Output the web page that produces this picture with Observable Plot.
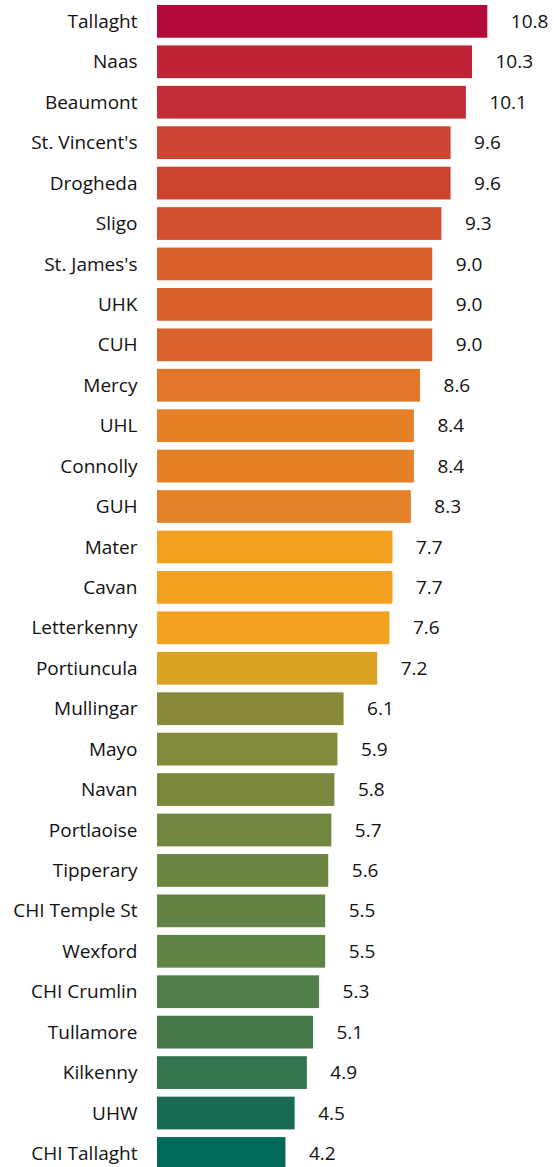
<!DOCTYPE html>
<html>
<head>
<meta charset="utf-8">
<script src="https://cdn.jsdelivr.net/npm/d3@7"></script>
<script src="https://cdn.jsdelivr.net/npm/@observablehq/plot@0.6"></script>
<style>
  html, body { margin: 0; padding: 0; background: #fff; }
  #chart svg { display: block; overflow: visible; }
</style>
</head>
<body>
<div id="chart"></div>
<script>
const hospitals = ["Tallaght", "Naas", "Beaumont", "St. Vincent's", "Drogheda", "Sligo", "St. James's", "UHK", "CUH", "Mercy", "UHL", "Connolly", "GUH", "Mater", "Cavan", "Letterkenny", "Portiuncula", "Mullingar", "Mayo", "Navan", "Portlaoise", "Tipperary", "CHI Temple St", "Wexford", "CHI Crumlin", "Tullamore", "Kilkenny", "UHW", "CHI Tallaght"];
const values = [10.8, 10.3, 10.1, 9.6, 9.6, 9.3, 9.0, 9.0, 9.0, 8.6, 8.4, 8.4, 8.3, 7.7, 7.7, 7.6, 7.2, 6.1, 5.9, 5.8, 5.7, 5.6, 5.5, 5.5, 5.3, 5.1, 4.9, 4.5, 4.2];
const barColors = ["#b40a3a", "#bf2335", "#c22c34", "#cc4432", "#cc4430", "#d2502e", "#d8602b", "#d8602a", "#d9612a", "#e2772a", "#e58027", "#e58027", "#e58128", "#f2a020", "#f2a020", "#f2a21f", "#dba123", "#888a3a", "#838a3c", "#7a883e", "#718740", "#6c8642", "#618445", "#5f8445", "#4f7e48", "#46794a", "#34744e", "#186b53", "#006a58"];

const data = hospitals.map((h, i) => ({hospital: h, value: values[i], color: barColors[i]}));

const chart = Plot.plot({
  width: 554,
  height: 1167,
  marginLeft: 157,
  marginRight: 30,
  marginTop: 0,
  marginBottom: 0,
  style: {fontFamily: "'Open Sans', 'Noto Sans', sans-serif", fontSize: "19px", color: "#111", background: "#fff"},
  x: {domain: [0, 12], axis: null},
  y: {domain: hospitals, range: [-2.7, 1177.5], padding: 0.19, round: false, label: null},
  marks: [
    Plot.barX(data, {y: "hospital", x: "value", fill: "color"}),
    Plot.text(data, {y: "hospital", x: "value", text: d => d.value.toFixed(1), textAnchor: "start", dx: 23, fontSize: 19, fill: "#111"}),
    Plot.axisY({tickSize: 0, tickPadding: 20, fontSize: 19, label: null, fill: "#111"})
  ]
});
document.getElementById("chart").appendChild(chart);
</script>
</body>
</html>
